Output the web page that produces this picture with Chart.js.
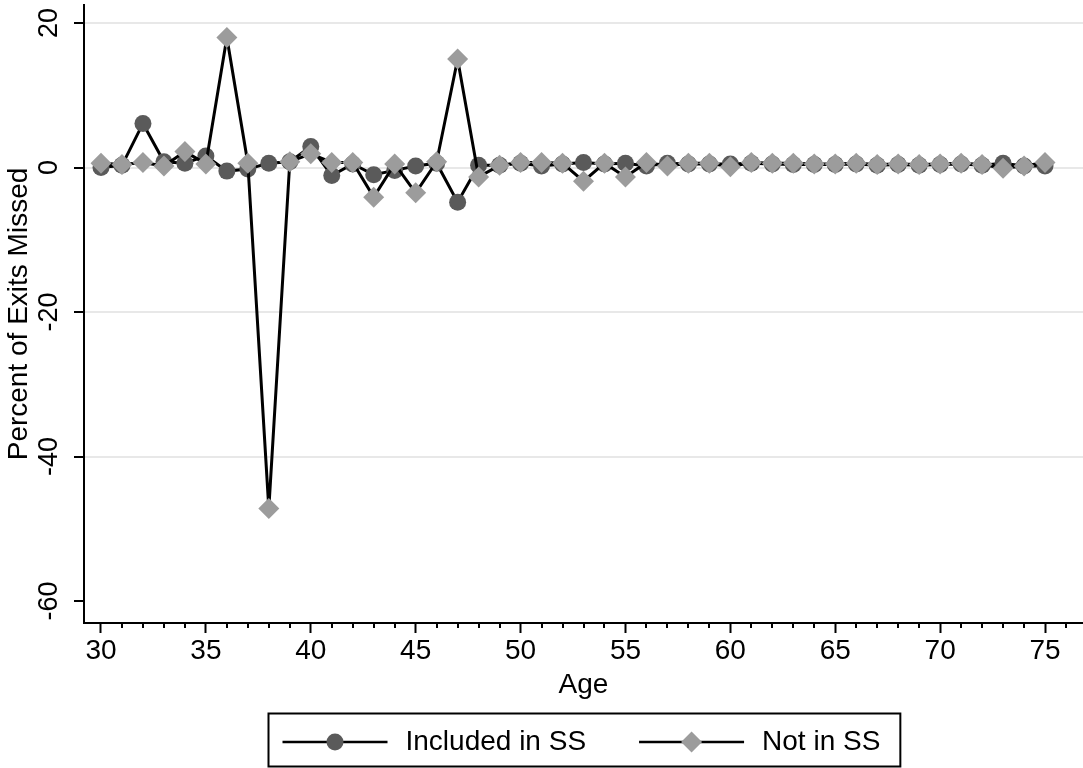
<!DOCTYPE html>
<html>
<head>
<meta charset="utf-8">
<script src="https://cdn.jsdelivr.net/npm/chart.js@4/dist/chart.umd.min.js"></script>
<style>
  html, body { margin: 0; padding: 0; background: #fff; }
  #c { display: block; }
</style>
</head>
<body>
<canvas id="c" width="1083" height="768"></canvas>
<script>
// ---- data ----
const ages = [30,31,32,33,34,35,36,37,38,39,40,41,42,43,44,45,46,47,48,49,50,51,52,53,54,55,56,57,58,59,60,61,62,63,64,65,66,67,68,69,70,71,72,73,74,75];
const includedInSS = [0.0,0.3,6.1,0.8,0.6,1.6,-0.5,-0.2,0.6,0.8,2.9,-1.1,0.5,-1.0,-0.4,0.2,0.6,-4.8,0.3,0.3,0.6,0.2,0.5,0.7,0.5,0.6,0.2,0.6,0.5,0.5,0.5,0.6,0.5,0.4,0.4,0.4,0.5,0.3,0.4,0.3,0.4,0.5,0.3,0.6,0.2,0.2];
const notInSS = [0.6,0.4,0.7,0.2,2.2,0.5,18.0,0.6,-47.2,0.8,1.9,0.7,0.7,-4.1,0.5,-3.5,0.8,15.0,-1.3,0.3,0.7,0.7,0.6,-1.9,0.6,-1.3,0.7,0.2,0.6,0.6,0.1,0.7,0.6,0.6,0.5,0.5,0.6,0.4,0.5,0.4,0.5,0.6,0.4,-0.1,0.2,0.7];
const seriesLabels = ['Included in SS', 'Not in SS'];
const xTickValues = [30,35,40,45,50,55,60,65,70,75];
const xMinorTickValues = [31,32,33,34,36,37,38,39,41,42,43,44,46,47,48,49,51,52,53,54,56,57,58,59,61,62,63,64,66,67,68,69,71,72,73,74,76];
const yTickValues = [-60,-40,-20,0,20];
const xTitle = 'Age';
const yTitle = 'Percent of Exits Missed';

const FONT = '"Liberation Sans", Arial, Helvetica, sans-serif';
const DARK = '#5a5a5a';
const LIGHT = '#9c9c9c';

function drawMarker(ctx, style, x, y, r, color) {
  ctx.fillStyle = color;
  ctx.beginPath();
  if (style === 'circle') {
    ctx.arc(x, y, r, 0, Math.PI * 2);
  } else {
    ctx.moveTo(x, y - r); ctx.lineTo(x + r, y); ctx.lineTo(x, y + r); ctx.lineTo(x - r, y); ctx.closePath();
  }
  ctx.fill();
}

function zeroPad(s) { s.paddingLeft = 0; s.paddingRight = 0; s.paddingTop = 0; s.paddingBottom = 0; }

const stataPlugin = {
  id: 'stataExtras',
  afterDraw(chart) {
    const ctx = chart.ctx;
    const ca = chart.chartArea;
    const xs = chart.scales.x, ys = chart.scales.y;
    ctx.save();
    // minor x ticks
    ctx.strokeStyle = '#000';
    ctx.lineWidth = 2;
    xMinorTickValues.forEach(v => {
      const px = Math.round(xs.getPixelForValue(v));
      ctx.beginPath(); ctx.moveTo(px, ca.bottom); ctx.lineTo(px, ca.bottom + 5); ctx.stroke();
    });
    // rotated y tick labels
    ctx.fillStyle = '#000';
    ctx.font = '27px ' + FONT;
    ctx.textAlign = 'center';
    ctx.textBaseline = 'middle';
    ys.ticks.forEach(t => {
      const py = ys.getPixelForValue(t.value);
      ctx.save(); ctx.translate(50, py); ctx.rotate(-Math.PI / 2);
      ctx.fillText(String(t.value), 0, 0);
      ctx.restore();
    });
    // legend
    ctx.font = '28px ' + FONT;
    ctx.textAlign = 'left';
    const lineLen = 105, gap = 18, itemGap = 53, padL = 14, padR = 20;
    const items = chart.data.datasets.map(ds => ({
      text: ds.label, style: ds.pointStyle, color: ds.pointBackgroundColor, r: ds.pointRadius,
      w: ctx.measureText(ds.label).width
    }));
    const content = items.reduce((s, it, i) => s + lineLen + gap + it.w + (i ? itemGap : 0), 0);
    const boxW = content + padL + padR;
    const cx = (ca.left + ca.right) / 2;
    const boxL = Math.round(cx - boxW / 2) + 0.5, boxT = 713.5, boxH = 53;
    ctx.lineWidth = 2; ctx.strokeStyle = '#000';
    ctx.strokeRect(boxL, boxT, boxW, boxH);
    let x = boxL + padL;
    const y = 742;
    items.forEach((it, i) => {
      if (i) x += itemGap;
      ctx.strokeStyle = '#000'; ctx.lineWidth = 2.5;
      ctx.beginPath(); ctx.moveTo(x, y); ctx.lineTo(x + lineLen, y); ctx.stroke();
      drawMarker(ctx, it.style === 'circle' ? 'circle' : 'diamond', x + lineLen / 2, y, it.r, it.color);
      x += lineLen + gap;
      ctx.fillStyle = '#000';
      ctx.fillText(it.text, x, y + 0.5);
      x += it.w;
    });
    ctx.restore();
  }
};

new Chart(document.getElementById('c'), {
  type: 'line',
  data: {
    datasets: [
      {
        label: seriesLabels[0],
        data: ages.map((a, i) => ({ x: a, y: includedInSS[i] })),
        borderColor: '#000', borderWidth: 3, tension: 0,
        pointStyle: 'circle', pointRadius: 8.5, pointBorderWidth: 0,
        pointBackgroundColor: DARK, pointBorderColor: DARK,
        order: 2
      },
      {
        label: seriesLabels[1],
        data: ages.map((a, i) => ({ x: a, y: notInSS[i] })),
        borderColor: '#000', borderWidth: 3, tension: 0,
        pointStyle: 'rectRot', pointRadius: 10.5, pointBorderWidth: 0,
        pointBackgroundColor: LIGHT, pointBorderColor: LIGHT,
        order: 1
      }
    ]
  },
  options: {
    responsive: false,
    animation: false,
    devicePixelRatio: 1,
    layout: { autoPadding: false, padding: { top: 5, right: 0, bottom: 0, left: 0 } },
    plugins: { legend: { display: false }, tooltip: { enabled: false } },
    scales: {
      x: {
        type: 'linear', min: 29.19, max: 76.81,
        afterBuildTicks: s => { s.ticks = xTickValues.map(v => ({ value: v })); },
        afterFit: s => { s.height = 145; zeroPad(s); },
        grid: { drawOnChartArea: false, drawTicks: true, tickLength: 10, tickWidth: 2, tickColor: '#000' },
        border: { display: true, color: '#000', width: 2 },
        ticks: { color: '#000', font: { family: FONT, size: 28 }, padding: 1, maxRotation: 0, autoSkip: false },
        title: { display: true, text: xTitle, color: '#000', font: { family: FONT, size: 28 }, padding: { top: 0, bottom: 66 } }
      },
      y: {
        type: 'linear', min: -63.04, max: 22.49,
        afterBuildTicks: s => { s.ticks = yTickValues.map(v => ({ value: v })); },
        afterFit: s => { s.width = 84; zeroPad(s); },
        grid: {
          drawOnChartArea: true, drawTicks: true, tickLength: 10, tickWidth: 2, tickColor: '#000',
          lineWidth: 2,
          color: ctx => (ctx.tick && ctx.tick.value === -60) ? 'rgba(0,0,0,0)' : '#e8e8e8'
        },
        border: { display: true, color: '#000', width: 2 },
        ticks: { display: false },
        title: { display: true, text: yTitle, color: '#000', font: { family: FONT, size: 28 }, padding: { top: 2, bottom: 0 } }
      }
    }
  },
  plugins: [stataPlugin]
});
</script>
</body>
</html>
